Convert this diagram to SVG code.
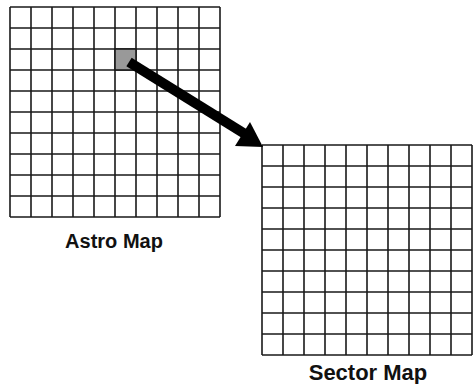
<svg xmlns="http://www.w3.org/2000/svg" width="474" height="384" viewBox="0 0 474 384">
<defs>
<style>
.grid{fill:none;stroke:#1a1a1a;stroke-width:1.6}
.lbl{font-family:"Liberation Sans",Arial,sans-serif;font-weight:bold;fill:#111;text-anchor:middle}
</style>
<g id="gridlines">
<rect x="0" y="0" width="210" height="210" fill="#fff"/>
<path class="grid" d="M0 0V210M21 0V210M42 0V210M63 0V210M84 0V210M105 0V210M126 0V210M147 0V210M168 0V210M189 0V210M210 0V210M0 0H210M0 21H210M0 42H210M0 63H210M0 84H210M0 105H210M0 126H210M0 147H210M0 168H210M0 189H210M0 210H210"/>
</g>
</defs>
<rect width="474" height="384" fill="#fff"/>
<g id="astro-map">
<use href="#gridlines" x="10" y="7"/>
<rect x="115" y="49" width="21" height="21" fill="#999" stroke="#1a1a1a" stroke-width="1.6"/>
<text class="lbl" x="114" y="248" font-size="20">Astro Map</text>
</g>
<g id="sector-map">
<use href="#gridlines" x="262" y="145"/>
<text class="lbl" x="368" y="380" font-size="22">Sector Map</text>
</g>
<g id="connectors">
<line x1="129" y1="62" x2="245" y2="134" stroke="#000" stroke-width="10"/>
<polygon points="263,147 235,146 250,122" fill="#000"/>
</g>
</svg>
